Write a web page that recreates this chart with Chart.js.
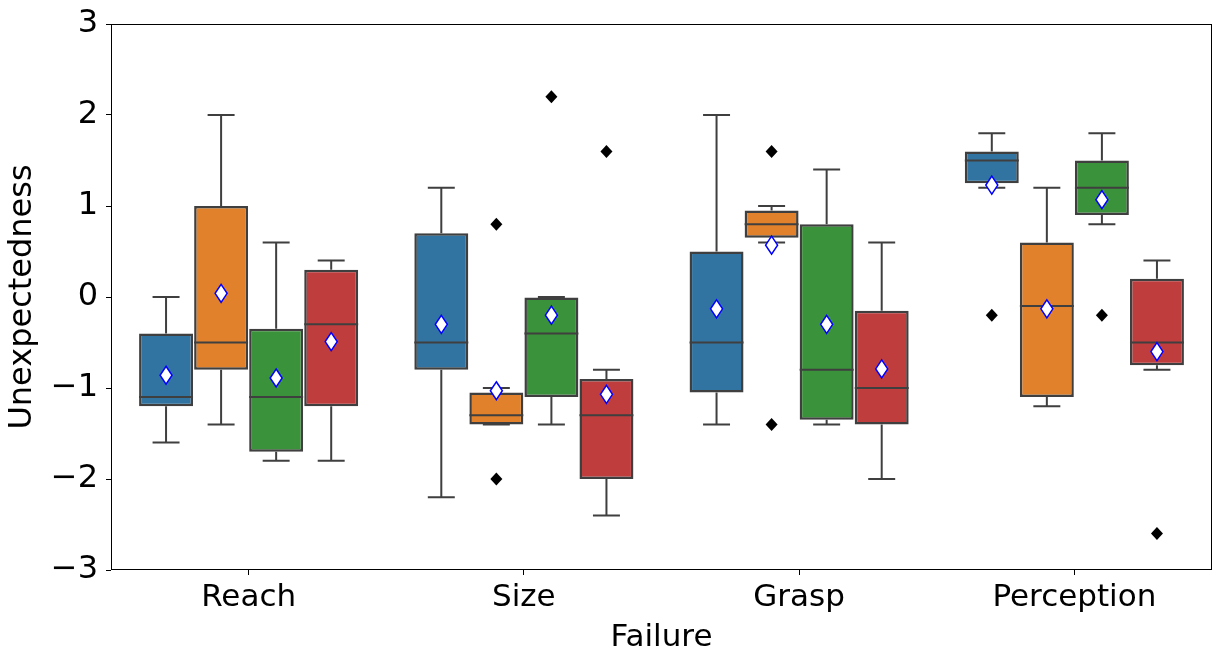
<!DOCTYPE html>
<html>
<head>
<meta charset="utf-8">
<script src="https://cdn.jsdelivr.net/npm/chart.js@4.4.1/dist/chart.umd.min.js"></script>
<style>
  html, body { margin: 0; padding: 0; background: #fff; }
</style>
</head>
<body>
<canvas id="chart" width="1213" height="654"></canvas>
<script>
const categories = ['Reach', 'Size', 'Grasp', 'Perception'];
const boxColors = ['#3274a1', '#e1812c', '#3a923a', '#c03d3e'];
const yTicks = [-3, -2, -1, 0, 1, 2, 3];

// one row per hue group (blue, orange, green, red), one value per category
const whiskerLow = [
  [-1.6, -2.2, -1.4, 1.2],
  [-1.4, -1.4, 0.6, -1.2],
  [-1.8, -1.4, -1.4, 0.8],
  [-1.8, -2.4, -2.0, -0.8],
];
const q1 = [
  [-1.2, -0.8, -1.05, 1.25],
  [-0.8, -1.4, 0.65, -1.1],
  [-1.7, -1.1, -1.35, 0.9],
  [-1.2, -2.0, -1.4, -0.75],
];
const median = [
  [-1.1, -0.5, -0.5, 1.5],
  [-0.5, -1.3, 0.8, -0.1],
  [-1.1, -0.4, -0.8, 1.2],
  [-0.3, -1.3, -1.0, -0.5],
];
const q3 = [
  [-0.4, 0.7, 0.5, 1.6],
  [1.0, -1.05, 0.95, 0.6],
  [-0.35, 0.0, 0.8, 1.5],
  [0.3, -0.9, -0.15, 0.2],
];
const whiskerHigh = [
  [0.0, 1.2, 2.0, 1.8],
  [2.0, -1.0, 1.0, 1.2],
  [0.6, 0.0, 1.4, 1.8],
  [0.4, -0.8, 0.6, 0.4],
];
const means = [
  [-0.86, -0.3, -0.13, 1.23],
  [0.04, -1.03, 0.57, -0.13],
  [-0.89, -0.2, -0.3, 1.07],
  [-0.49, -1.07, -0.79, -0.6],
];
const outliers = [
  [[], [], [], [-0.2]],
  [[], [0.8, -2.0], [1.6, -1.4], []],
  [[], [2.2], [], [-0.2]],
  [[], [1.6], [], [-2.6]],
];

const FONT = 'DejaVu Sans, sans-serif';
const LINE = '#3f3f3f';

function diamond(ctx, x, y, hw, hh) {
  ctx.beginPath();
  ctx.moveTo(x, y - hh);
  ctx.lineTo(x + hw, y);
  ctx.lineTo(x, y + hh);
  ctx.lineTo(x - hw, y);
  ctx.closePath();
}

// whiskers, caps, medians, fliers and means on top of the floating bars
const boxPlotPlugin = {
  id: 'boxPlot',
  afterDatasetsDraw(chart) {
    const { ctx, chartArea } = chart;
    const y = chart.scales.y;
    ctx.save();
    chart.data.datasets.forEach((ds, g) => {
      const meta = chart.getDatasetMeta(g);
      meta.data.forEach((bar, i) => {
        const x = bar.x;
        const w = bar.width;
        const yLow = y.getPixelForValue(whiskerLow[g][i]);
        const yQ1 = y.getPixelForValue(q1[g][i]);
        const yMed = y.getPixelForValue(median[g][i]);
        const yQ3 = y.getPixelForValue(q3[g][i]);
        const yHigh = y.getPixelForValue(whiskerHigh[g][i]);

        ctx.strokeStyle = LINE;
        ctx.lineWidth = 2;
        ctx.lineCap = 'butt';
        ctx.beginPath();
        ctx.moveTo(x, yQ1);
        ctx.lineTo(x, yLow);
        ctx.moveTo(x, yQ3);
        ctx.lineTo(x, yHigh);
        ctx.moveTo(x - w / 4, yLow);
        ctx.lineTo(x + w / 4, yLow);
        ctx.moveTo(x - w / 4, yHigh);
        ctx.lineTo(x + w / 4, yHigh);
        ctx.moveTo(x - w / 2, yMed);
        ctx.lineTo(x + w / 2, yMed);
        ctx.stroke();

        ctx.fillStyle = '#000';
        outliers[g][i].forEach((v) => {
          diamond(ctx, x, y.getPixelForValue(v), 6, 6.5);
          ctx.fill();
        });

        diamond(ctx, x, y.getPixelForValue(means[g][i]), 6, 9);
        ctx.fillStyle = '#fff';
        ctx.fill();
        ctx.strokeStyle = '#0000ff';
        ctx.lineWidth = 1.5;
        ctx.stroke();
      });
    });

    ctx.strokeStyle = '#000';
    ctx.lineWidth = 1;
    ctx.strokeRect(chartArea.left + 0.5, chartArea.top + 0.5, chartArea.width - 1, chartArea.height - 1);
    ctx.restore();
  },
};

const ctx = document.getElementById('chart').getContext('2d');
new Chart(ctx, {
  type: 'bar',
  data: {
    labels: categories,
    datasets: boxColors.map((color, g) => ({
      data: categories.map((_, i) => [q1[g][i], q3[g][i]]),
      backgroundColor: color,
      borderColor: LINE,
      borderWidth: 2.5,
      borderSkipped: false,
      categoryPercentage: 0.8,
      barPercentage: 0.98,
    })),
  },
  options: {
    responsive: false,
    animation: false,
    layout: { padding: { top: 23, right: 1, left: 0, bottom: 0 } },
    plugins: {
      legend: { display: false },
      tooltip: { enabled: false },
    },
    scales: {
      x: {
        grid: { display: true, drawOnChartArea: false, drawTicks: true, tickLength: 5, color: '#000', offset: false },
        border: { display: false },
        ticks: { color: '#000', font: { family: FONT, size: 31, lineHeight: 1 }, padding: 7, maxRotation: 0 },
        title: {
          display: true,
          text: 'Failure',
          color: '#000',
          font: { family: FONT, size: 31, lineHeight: 1 },
          padding: { top: 0, bottom: 1 },
        },
        afterFit: (scale) => { scale.height = 84; },
      },
      y: {
        min: -3,
        max: 3,
        afterBuildTicks: (scale) => { scale.ticks = yTicks.map((v) => ({ value: v })); },
        grid: { display: true, drawOnChartArea: false, drawTicks: true, tickLength: 5, color: '#000' },
        border: { display: false },
        ticks: {
          color: '#000',
          font: { family: FONT, size: 32, lineHeight: 1 },
          padding: 8,
          callback: (v) => (v < 0 ? '\u2212' + Math.abs(v) : String(v)),
        },
        title: {
          display: true,
          text: 'Unexpectedness',
          color: '#000',
          font: { family: FONT, size: 32, lineHeight: 1 },
          padding: { top: 7, bottom: 0 },
        },
        afterFit: (scale) => { scale.width = 111; },
      },
    },
  },
  plugins: [boxPlotPlugin],
});
</script>
</body>
</html>
